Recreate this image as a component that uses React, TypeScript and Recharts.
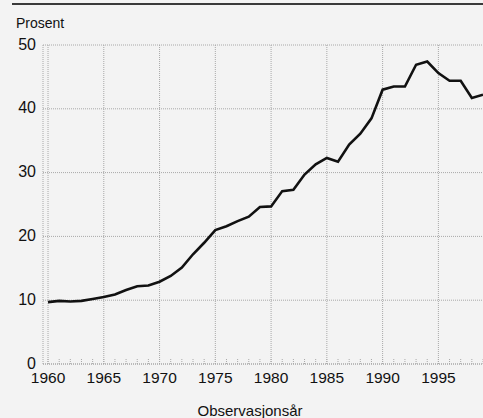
import React from "react";
import { LineChart, Line, XAxis, YAxis, CartesianGrid, ReferenceLine } from "recharts";

// ---------------------------------------------------------------------------
// Data
// ---------------------------------------------------------------------------

const YEARS = [
  1960, 1961, 1962, 1963, 1964, 1965, 1966, 1967, 1968, 1969,
  1970, 1971, 1972, 1973, 1974, 1975, 1976, 1977, 1978, 1979,
  1980, 1981, 1982, 1983, 1984, 1985, 1986, 1987, 1988, 1989,
  1990, 1991, 1992, 1993, 1994, 1995, 1996, 1997, 1998, 1999,
];

const PROSENT = [
  9.7, 9.9, 9.8, 9.9, 10.2, 10.5, 10.9, 11.6, 12.2, 12.3,
  12.9, 13.8, 15.1, 17.2, 19.0, 21.0, 21.6, 22.4, 23.1, 24.6,
  24.7, 27.1, 27.3, 29.7, 31.3, 32.3, 31.7, 34.4, 36.1, 38.5,
  43.0, 43.5, 43.5, 46.9, 47.4, 45.6, 44.4, 44.4, 41.7, 42.2,
];

const MAJOR_YEARS = [1960, 1965, 1970, 1975, 1980, 1985, 1990, 1995];
const Y_TICKS = [0, 10, 20, 30, 40, 50];

const data = YEARS.map((year, i) => ({ year, value: PROSENT[i] }));

const FONT = "'Liberation Sans', Arial, sans-serif";
const GRID = "#a8a8a8";

// x-axis tick: a short dotted mark above the axis every year, a label every 5 years
// eslint-disable-next-line @typescript-eslint/no-explicit-any
function YearTick({ x, y, payload }: Record<string, any>) {
  const year = payload.value as number;
  return (
    <g>
      <line x1={x} x2={x} y1={y - 5} y2={y} stroke={GRID} strokeDasharray="1 1" />
      {year % 5 === 0 && (
        <text x={x} y={y + 8} dy="0.71em" textAnchor="middle" fill="#111" fontSize={15.5} fontFamily={FONT}>
          {year}
        </text>
      )}
    </g>
  );
}

export default function App() {
  return (
    <div
      style={{
        position: "absolute",
        left: 0,
        top: 0,
        width: 483,
        height: 418,
        background: "#f3f3f3",
        overflow: "hidden",
        fontFamily: FONT,
      }}
    >
      {/* top rule */}
      <div style={{ position: "absolute", left: 12, top: 3, width: 471, height: 2, background: "#3a3a3a" }} />

      <div style={{ position: "absolute", left: 16, top: 15, fontSize: 14, color: "#111" }}>Prosent</div>

      <LineChart
        width={483}
        height={418}
        data={data}
        margin={{ top: 45, right: 0, left: 0, bottom: 0 }}
        style={{ position: "absolute", left: 0, top: 0 }}
      >
        <CartesianGrid vertical={false} stroke={GRID} strokeDasharray="1 1" />
        {MAJOR_YEARS.map((yr) => (
          <ReferenceLine key={yr} x={yr} stroke={GRID} strokeDasharray="1 1" />
        ))}
        <XAxis
          dataKey="year"
          type="number"
          domain={[1959.55, 1999]}
          ticks={YEARS}
          interval={0}
          allowDataOverflow
          height={54}
          tickSize={0}
          tickMargin={0}
          tickLine={false}
          axisLine={{ stroke: GRID, strokeDasharray: "1 1" }}
          tick={<YearTick />}
        />
        <YAxis
          domain={[0, 50]}
          ticks={Y_TICKS}
          width={43}
          tickSize={0}
          tickMargin={7}
          tickLine={false}
          axisLine={{ stroke: GRID, strokeDasharray: "1 1" }}
          tick={{ fill: "#111", fontSize: 16, fontFamily: FONT, dy: -1 }}
        />
        <Line
          type="linear"
          dataKey="value"
          stroke="#111"
          strokeWidth={2.6}
          dot={false}
          isAnimationActive={false}
        />
      </LineChart>

      <div
        style={{
          position: "absolute",
          left: 0,
          width: 500,
          top: 402,
          textAlign: "center",
          fontSize: 15,
          color: "#111",
        }}
      >
        Observasjonsår
      </div>
    </div>
  );
}
